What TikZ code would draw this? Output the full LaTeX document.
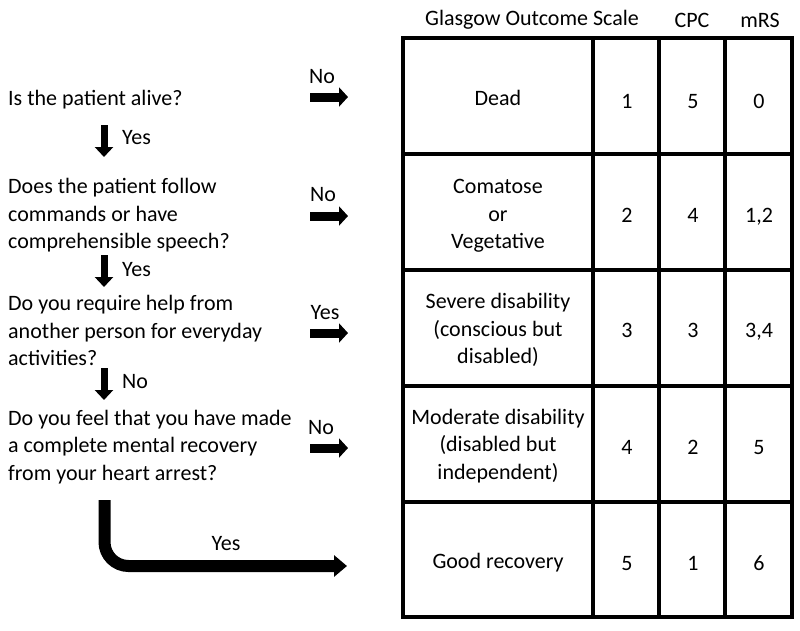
\documentclass[tikz,border=0pt]{standalone}
\usepackage{fontspec}
\setmainfont{Carlito}
\usetikzlibrary{arrows.meta}
\begin{document}
\begin{tikzpicture}[x=1pt,y=-1pt,
  txt/.style={font=\fontsize{22}{27.5}\selectfont, inner sep=0pt},
  question/.style={txt, anchor=west, align=left},
  cell/.style={txt, align=center},
  numcell/.style={txt, anchor=base},
  rarrow/.style={line width=9pt, -{Triangle[width=19pt,length=9pt]}},
  darrow/.style={line width=7pt, -{Triangle[width=18pt,length=10pt]}},
  bigarrow/.style={line width=12pt, rounded corners=24pt, -{Triangle[width=21pt,length=13pt]}},
  grid/.style={line width=3.2pt, line cap=rect}
]
\useasboundingbox (0,0) rectangle (800,630);

% questions
\node[question] (q1) at (8,100) {Is the patient alive?};
\node[question] (q2) at (8,215.5) {Does the patient follow\\commands or have\\comprehensible speech?};
\node[question] (q3) at (8,330.5) {Do you require help from\\another person for everyday\\activities?};
\node[question] (q4) at (8,447) {Do you feel that you have made\\a complete mental recovery\\from your heart arrest?};

% down arrows
\coordinate (d1s) at (104,125); \coordinate (d1e) at (104,157);
\coordinate (d2s) at (104,255); \coordinate (d2e) at (104,287);
\coordinate (d3s) at (104,368); \coordinate (d3e) at (104,400);
\draw[darrow] (d1s) -- (d1e);
\draw[darrow] (d2s) -- (d2e);
\draw[darrow] (d3s) -- (d3e);
\node[txt, anchor=west] (y1) at (122,138) {Yes};
\node[txt, anchor=west] (y2) at (122,270) {Yes};
\node[txt, anchor=west] (n3) at (122,382) {No};

% right arrows
\coordinate (r1s) at (310,97);  \coordinate (r1e) at (348,97);
\coordinate (r2s) at (310,216); \coordinate (r2e) at (348,216);
\coordinate (r3s) at (310,333); \coordinate (r3e) at (348,333);
\coordinate (r4s) at (310,448); \coordinate (r4e) at (348,448);
\draw[rarrow] (r1s) -- (r1e);
\draw[rarrow] (r2s) -- (r2e);
\draw[rarrow] (r3s) -- (r3e);
\draw[rarrow] (r4s) -- (r4e);
\node[txt] (l1) at (322,77) {No};
\node[txt] (l2) at (323,195) {No};
\node[txt] (l3) at (325,313) {Yes};
\node[txt] (l4) at (321,428) {No};

% bent arrow
\coordinate (bs) at (104.5,500);
\coordinate (bc) at (104.5,566);
\coordinate (be) at (347,566);
\draw[bigarrow] (bs) -- (bc) -- (be);
\node[txt] (l5) at (226,544) {Yes};

% headers
\node[txt] (h1) at (532,20) {Glasgow Outcome Scale};
\node[txt] (h2) at (692,20) {CPC};
\node[txt] (h3) at (760,20) {mRS};

% table grid
\draw[grid] (403,38) rectangle (792,617);
\foreach \x in {593,659,725} \draw[grid] (\x,38) -- (\x,617);
\foreach \y in {154,270,386,502} \draw[grid] (403,\y) -- (792,\y);

% row 1
\node[cell] (g1) at (498,98) {Dead};
\node[numcell] (a1) at (627,108) {1};
\node[numcell] (b1) at (693,108) {5};
\node[numcell] (c1) at (759,108) {0};
% row 2
\node[cell] (g2) at (498,216) {Comatose\\or\\Vegetative};
\node[numcell] (a2) at (627,222) {2};
\node[numcell] (b2) at (693,222) {4};
\node[numcell] (c2) at (759,222) {1,2};
% row 3
\node[cell] (g3) at (498,330) {Severe disability\\(conscious but\\disabled)};
\node[numcell] (a3) at (627,337) {3};
\node[numcell] (b3) at (693,337) {3};
\node[numcell] (c3) at (759,337) {3,4};
% row 4
\node[cell] (g4) at (498,446) {Moderate disability\\(disabled but\\independent)};
\node[numcell] (a4) at (627,454) {4};
\node[numcell] (b4) at (693,454) {2};
\node[numcell] (c4) at (759,454) {5};
% row 5
\node[cell] (g5) at (498,563) {Good recovery};
\node[numcell] (a5) at (627,570) {5};
\node[numcell] (b5) at (693,570) {1};
\node[numcell] (c5) at (759,570) {6};
\end{tikzpicture}
\end{document}
